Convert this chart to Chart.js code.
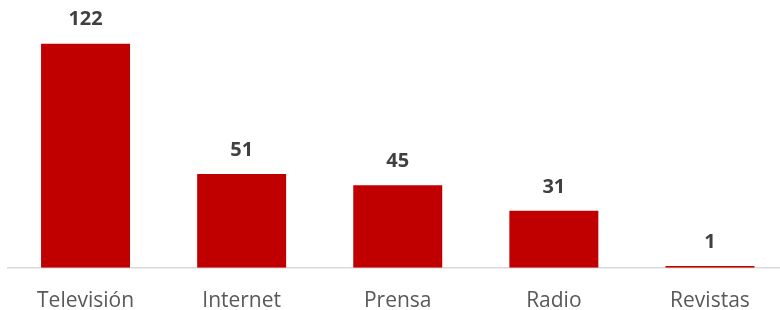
<!DOCTYPE html>
<html>
<head>
<meta charset="utf-8">
<script src="https://cdn.jsdelivr.net/npm/chart.js@4"></script>
<style>
  html, body { margin: 0; padding: 0; overflow: hidden; background: #fff; }
  #wrap { position: relative; width: 788px; height: 327px; }
</style>
</head>
<body>
<div id="wrap"><canvas id="myChart"></canvas></div>
<script>
const categories = ['Televisión', 'Internet', 'Prensa', 'Radio', 'Revistas'];
const values = [122, 51, 45, 31, 1];

// draws the bold value above each bar
const valueLabels = {
    id: 'valueLabels',
    afterDatasetsDraw(chart) {
        const ctx = chart.ctx;
        const meta = chart.getDatasetMeta(0);
        ctx.save();
        ctx.font = 'bold 20px "Open Sans"';
        ctx.fillStyle = '#404040';
        ctx.textAlign = 'center';
        ctx.textBaseline = 'middle';
        meta.data.forEach(function (bar, i) {
            ctx.fillText(values[i], bar.x, bar.y - 24);
        });
        ctx.restore();
    }
};

const myChart = new Chart(document.getElementById('myChart'), {
    type: 'bar',
    data: {
        labels: categories,
        datasets: [{
            data: values,
            backgroundColor: '#c00000',
            borderWidth: 0,
            categoryPercentage: 1,
            barPercentage: 0.57
        }]
    },
    options: {
        responsive: true,
        maintainAspectRatio: false,
        animation: false,
        layout: { padding: { top: 29, left: 7.5, right: 0, bottom: 0 } },
        plugins: {
            legend: { display: false },
            tooltip: { enabled: false }
        },
        scales: {
            x: {
                grid: { display: false },
                border: { color: '#d9d9d9', width: 1.5 },
                ticks: {
                    color: '#595959',
                    font: { family: '"Open Sans"', size: 21 },
                    padding: 13
                }
            },
            y: {
                display: false,
                min: 0,
                max: 130
            }
        }
    },
    plugins: [valueLabels]
});
</script>
</body>
</html>
